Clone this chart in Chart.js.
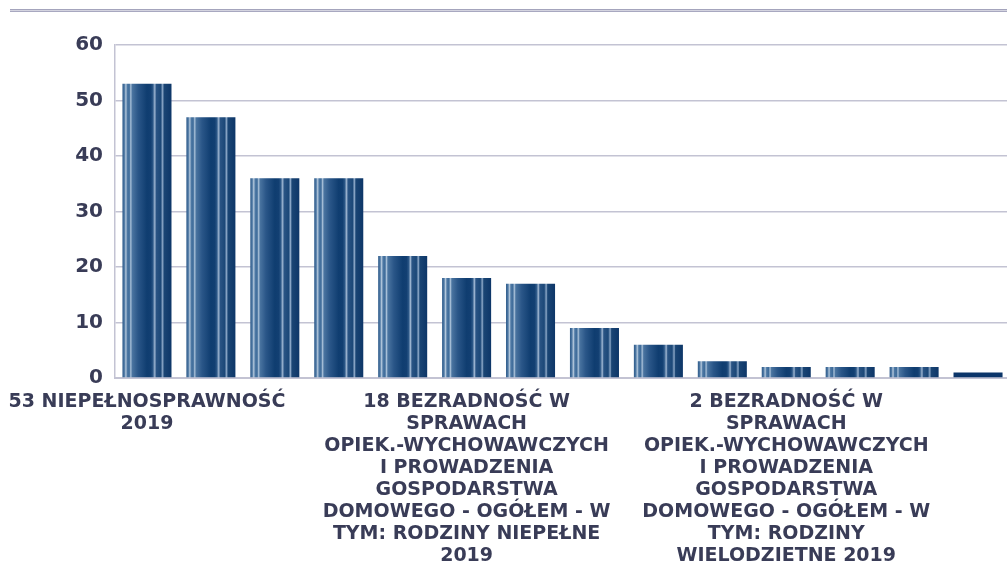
<!DOCTYPE html>
<html>
<head>
<meta charset="utf-8">
<script src="https://cdn.jsdelivr.net/npm/chart.js@4/dist/chart.umd.min.js"></script>
<style>
  html, body { margin: 0; padding: 0; background: #ffffff; overflow: hidden; }
  #wrap { position: absolute; left: 0; top: 0; width: 1010px; height: 566px; }
</style>
</head>
<body>
<div id="wrap"><canvas id="c"></canvas></div>
<script>
const categories = [
  ["53 NIEPEŁNOSPRAWNOŚĆ", "2019"],
  "", "", "", "",
  ["18 BEZRADNOŚĆ W", "SPRAWACH", "OPIEK.-WYCHOWAWCZYCH", "I PROWADZENIA", "GOSPODARSTWA", "DOMOWEGO - OGÓŁEM - W", "TYM: RODZINY NIEPEŁNE", "2019"],
  "", "", "", "",
  ["2 BEZRADNOŚĆ W", "SPRAWACH", "OPIEK.-WYCHOWAWCZYCH", "I PROWADZENIA", "GOSPODARSTWA", "DOMOWEGO - OGÓŁEM - W", "TYM: RODZINY", "WIELODZIETNE 2019"],
  "", "", ""
];
const values = [53, 47, 36, 36, 22, 18, 17, 9, 6, 3, 2, 2, 2, 1];
const yTicks = [0, 10, 20, 30, 40, 50, 60];

const textColor = '#393c57';
const gridColor = '#c3c3d3';
const barPct = 0.767;

function barFill(ctx) {
  const chart = ctx.chart;
  const xs = chart.scales.x;
  if (ctx.raw <= 1) return '#0b3569';
  if (!xs || ctx.dataIndex === undefined) return '#1d4a7c';
  const center = xs.getPixelForValue(ctx.dataIndex);
  const w = (xs.width / categories.length) * barPct;
  if (!isFinite(center) || !isFinite(w) || w <= 0) return '#1d4a7c';
  const l = center - w / 2;
  const g = chart.ctx.createLinearGradient(l, 0, l + w, 0);
  const stops = [
    [0.00, '#2d5a8a'], [0.04, '#4f79a4'], [0.07, '#b4c8dc'], [0.10, '#4d78a4'],
    [0.14, '#3f6c9a'], [0.17, '#a8c0d8'], [0.20, '#4a74a0'], [0.32, '#2a5688'],
    [0.50, '#0f3d70'], [0.58, '#123f72'], [0.62, '#2a5686'], [0.66, '#9cb4d0'],
    [0.69, '#2a5484'], [0.78, '#1c4878'], [0.82, '#8aa6c6'], [0.85, '#1a4574'],
    [1.00, '#0d3668']
  ];
  stops.forEach(s => g.addColorStop(s[0], s[1]));
  return g;
}

const topLine = {
  id: 'topLine',
  beforeDraw(chart) {
    const c = chart.ctx;
    c.save();
    c.fillStyle = '#a4a4bc'; c.fillRect(10, 9, 1000, 1);
    c.fillStyle = '#d4d4e0'; c.fillRect(10, 10, 1000, 1);
    c.fillStyle = '#a8a8c0'; c.fillRect(10, 11, 1000, 1);
    c.restore();
  }
};

new Chart(document.getElementById('c'), {
  type: 'bar',
  data: {
    labels: categories,
    datasets: [{
      data: values,
      backgroundColor: barFill,
      borderWidth: 0,
      barPercentage: barPct,
      categoryPercentage: 1.0
    }]
  },
  options: {
    responsive: true,
    maintainAspectRatio: false,
    animation: false,
    events: [],
    layout: { padding: { top: 45, right: 0, left: 0, bottom: 0 } },
    plugins: { legend: { display: false }, tooltip: { enabled: false }, title: { display: false } },
    scales: {
      x: {
        grid: { display: false, drawTicks: false },
        border: { display: true, color: gridColor, width: 2 },
        ticks: {
          autoSkip: false,
          maxRotation: 0, minRotation: 0,
          padding: 13,
          color: textColor,
          font: { family: '"DejaVu Sans", sans-serif', size: 19, weight: 'bold', lineHeight: 1.16 },
          callback: function(v, i) { return categories[i]; }
        },
        afterFit(scale) { scale.height = 188; scale.paddingLeft = 0; scale.paddingRight = 0; }
      },
      y: {
        min: 0, max: 60,
        afterBuildTicks(scale) { scale.ticks = yTicks.map(v => ({ value: v })); },
        grid: { color: gridColor, lineWidth: 1.5, drawTicks: false },
        border: { display: true, color: gridColor, width: 1.5 },
        ticks: {
          padding: 12,
          color: textColor,
          font: { family: '"DejaVu Sans", sans-serif', size: 20, weight: 'bold' }
        },
        afterFit(scale) { scale.width = 115; }
      }
    }
  },
  plugins: [topLine]
});
</script>
</body>
</html>
